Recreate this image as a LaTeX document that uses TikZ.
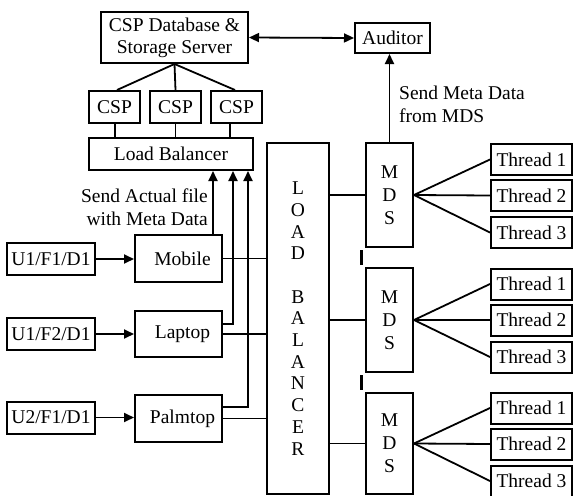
\documentclass[tikz,border=0pt]{standalone}
\usepackage{fontspec}
\setmainfont{Liberation Serif}
\usetikzlibrary{arrows.meta}
\begin{document}
\begin{tikzpicture}[x=1pt,y=-1pt,
    box/.style={draw,line width=2pt,inner sep=0pt,align=center,font=\fontsize{19.5}{22}\selectfont},
    thr/.style={box,minimum width=81pt,minimum height=31pt},
    mds/.style={box,minimum width=47pt,font=\fontsize{19.5}{23}\selectfont},
    link/.style={line width=1.8pt},
    arr/.style={link,-{Triangle[length=10pt,width=9pt]}},
    note/.style={inner sep=0pt,font=\fontsize{19.5}{23}\selectfont}]
  \useasboundingbox (0,0) rectangle (574,496);
  % storage side
  \node[box,minimum width=147pt,minimum height=51pt] (db) at (174.5,37.5) {CSP Database \&\\Storage Server};
  \node[box,minimum width=75pt,minimum height=30pt] (aud) at (392.5,38) {Auditor};
  \node[box,minimum width=51pt,minimum height=32pt] (csp1) at (114.5,107) {CSP};
  \node[box,minimum width=51pt,minimum height=32pt] (csp2) at (175.5,107) {CSP};
  \node[box,minimum width=51pt,minimum height=32pt] (csp3) at (236.5,107) {CSP};
  \node[box,minimum width=164pt,minimum height=32pt] (lbh) at (171,154) {Load Balancer};
  % users and devices
  \node[box,minimum width=88pt,minimum height=32pt] (u1) at (51,259) {U1/F1/D1};
  \node[box,minimum width=88pt,minimum height=32pt] (u2) at (51,334) {U1/F2/D1};
  \node[box,minimum width=88pt,minimum height=32pt] (u3) at (51,417.5) {U2/F1/D1};
  \node[box,minimum width=87pt,minimum height=47pt] (mob) at (178.5,258.5) {\hspace*{8pt}Mobile};
  \node[box,minimum width=87pt,minimum height=46pt] (lap) at (178.5,334) {\hspace*{8pt}Laptop};
  \node[box,minimum width=87pt,minimum height=47pt] (palm) at (178.5,418.5) {\hspace*{8pt}Palmtop};
  \node[box,minimum width=62pt,minimum height=351pt,font=\fontsize{19.5}{21.7}\selectfont] (lbv) at (298,318.5)
    {L\\O\\A\\D\\[21.7pt]B\\A\\L\\A\\N\\C\\E\\R};
  % metadata servers
  \node[mds,minimum height=104pt] (mds1) at (389.5,195) {M\\D\\S};
  \node[mds,minimum height=104pt] (mds2) at (389.5,320) {M\\D\\S};
  \node[mds,minimum height=101pt] (mds3) at (389.5,443.5) {M\\D\\S};
  \foreach \g/\y in {1/195.5,2/320,3/444}{
    \node[thr] (t\g a) at (531.5,\y-36) {Thread 1};
    \node[thr] (t\g b) at (531.5,\y) {Thread 2};
    \node[thr] (t\g c) at (531.5,\y+37) {Thread 3};
    \foreach \k in {a,b,c}
      \draw[link] (mds\g.east) -- (t\g\k.west);
    \draw[link] (lbv.east |- mds\g.west) -- (mds\g.west);
  }
  \draw[line width=3pt] ([shift={(-4,2)}]mds1.south west) -- ([shift={(-4,-2)}]mds2.north west);
  \draw[line width=3pt] ([shift={(-4,2)}]mds2.south west) -- ([shift={(-4,-2)}]mds3.north west);
  % storage links
  \draw[link,{Triangle[length=10pt,width=9pt]}-{Triangle[length=10pt,width=9pt]}] (db.east) -- (aud.west);
  \draw[arr] (mds1.north) -- (mds1.north |- aud.south);
  \foreach \c/\dx in {1/2.5,2/0,3/-1.5}
    \draw[link] (db.south) -- ([xshift=\dx pt]csp\c.north);
  \foreach \c/\dx in {1/0.5,2/0,3/-6.5}
    \draw[link] ([xshift=\dx pt]csp\c.south) -- ([xshift=\dx pt]csp\c.south |- lbh.north);
  % device links
  \foreach \u/\d in {u1/mob,u2/lap,u3/palm}{
    \draw[arr] (\u.east) -- (\u.east -| \d.west);
    \draw[link] (\d.east) -- (\d.east -| lbv.west);
  }
  \draw[arr] (213,0 |- mob.north) -- (213,0 |- lbh.south);
  \draw[arr] ([yshift=-14pt]lap.north east) -| (233,0 |- lbh.south);
  \draw[arr] ([yshift=-13pt]palm.north east) -| (248,0 |- lbh.south);
  \node[note,anchor=east,align=right] (sendfile) at (208,207.5) {Send Actual file\\with Meta Data};
  \node[note,anchor=west,align=left] (sendmeta) at (399,104) {Send Meta Data\\from MDS};
\end{tikzpicture}
\end{document}
